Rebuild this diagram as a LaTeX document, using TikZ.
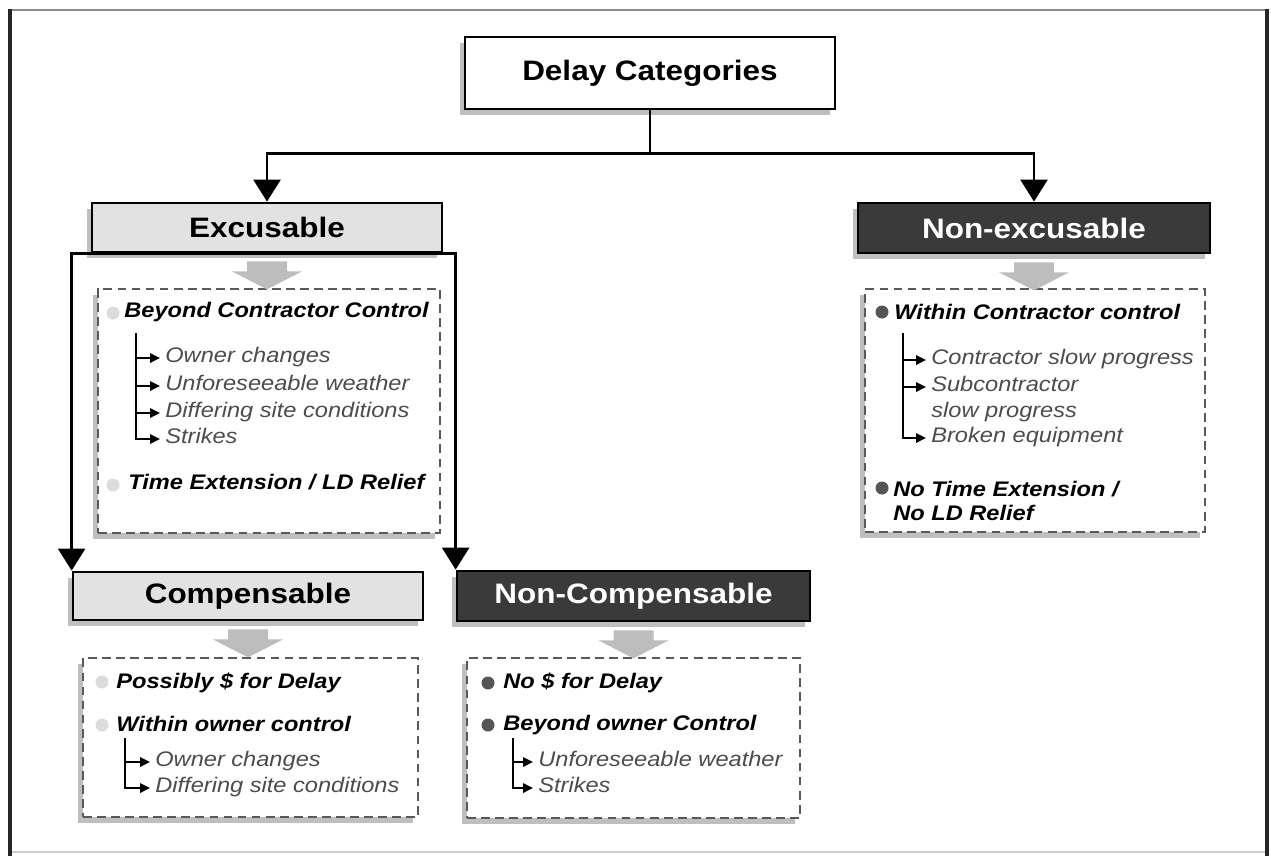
\documentclass[tikz,border=0pt]{standalone}
\usepackage{fontspec}
\setmainfont{Liberation Sans}[FakeStretch=1.12]
\usetikzlibrary{arrows.meta,calc,shadows}
\definecolor{boxlight}{HTML}{E2E2E2}
\definecolor{boxdark}{HTML}{3A3A3A}
\definecolor{agray}{HTML}{BDBDBD}
\definecolor{blight}{HTML}{DCDCDC}
\definecolor{bdark}{HTML}{555555}
\tikzset{
  shad/.style={drop shadow={shadow xshift=-0.1cm, shadow yshift=-0.12cm, fill=black, opacity=0.25}},
  titlebox/.style={draw=black, line width=1.6pt, inner sep=0pt, font=\fontsize{16}{19}\selectfont\bfseries, shad},
  lightbox/.style={titlebox, fill=boxlight},
  darkbox/.style={titlebox, fill=boxdark, text=white},
  dashbox/.style={draw=black!65, dash pattern=on 5pt off 3pt, line width=1.2pt, fill=white, inner sep=0pt, shad},
  hdr/.style={anchor=west, inner sep=0pt, font=\fontsize{12}{14}\selectfont\bfseries\itshape, text height=0.72em, text depth=0.2em},
  itm/.style={anchor=west, inner ysep=0pt, inner xsep=0.1cm, text=black!70, font=\fontsize{12}{14}\selectfont\itshape, text height=0.72em, text depth=0.2em},
  bull/.style={circle, inner sep=0pt, minimum size=0.26cm},
  lbull/.style={bull, fill=blight},
  dbull/.style={bull, fill=bdark},
  conn/.style={line width=1.5pt, -{Triangle[length=0.44cm,width=0.54cm]}},
  sarr/.style={line width=1pt, -{Triangle[length=0.2cm,width=0.19cm]}},
}
\newcommand{\grayarrow}[1]{\fill[agray] ($(#1)+(-20,8)$) -- ++(40,0) -- ++(0,10) -- ++(15,0) -- ++(-35,18) -- ++(-35,-18) -- ++(15,0) -- cycle;}
\begin{document}
\begin{tikzpicture}[x=0.02cm,y=-0.02cm]
\useasboundingbox (0,0) rectangle (1271,856);
% frame
\draw[black!45, line width=1pt] (10,10) -- (1267,10);
\draw[black!20, line width=0.8pt] (10,852) -- (1267,852);
\draw[black!85, line width=1.8pt] (10,9) -- (10,856);
\draw[black!85, line width=1.8pt] (1267,9) -- (1267,856);

% title boxes
\node[titlebox, fill=white, minimum width=7.4cm, minimum height=1.44cm] (dc) at (650,73) {Delay Categories};
\node[lightbox, minimum width=7.0cm, minimum height=0.98cm] (exc) at (267,227.5) {Excusable};
\node[darkbox, minimum width=7.04cm, minimum height=1.0cm] (nexc) at (1034,228) {Non-excusable};
\node[lightbox, minimum width=7.0cm, minimum height=0.96cm] (comp) at (248,596) {Compensable};
\node[darkbox, minimum width=7.06cm, minimum height=1.0cm] (ncomp) at (633.5,596) {Non-Compensable};

% connectors
\draw[conn] (dc.south) -- ++(0,43) -| (exc.north);
\draw[conn] (dc.south) -- ++(0,43) -| (nexc.north);
\draw[conn] (exc.south) -| (comp.north west);
\draw[conn] (exc.south) -| (ncomp.north west);

% dashed content boxes
\node[dashbox, minimum width=6.84cm, minimum height=4.88cm] (excd) at (269,411) {};
\node[dashbox, minimum width=6.8cm, minimum height=4.86cm] (nexcd) at (1035,410.5) {};
\node[dashbox, minimum width=6.7cm, minimum height=3.18cm] (compd) at (250.5,737.5) {};
\node[dashbox, minimum width=6.66cm, minimum height=3.2cm] (ncompd) at (633.5,738) {};

% gray block arrows
\grayarrow{exc.south}
\grayarrow{nexc.south}
\grayarrow{comp.south}
\grayarrow{ncomp.south}

% Excusable content
\node[lbull] (eb1) at (113,313) {};
\node[hdr] (eh1) at (124,313) {Beyond Contractor Control};
\coordinate (ev) at (136,333);
\node[itm] (ei1) at (160,358) {Owner changes};
\node[itm] (ei2) at (160,386) {Unforeseeable weather};
\node[itm] (ei3) at (160,413) {Differing site conditions};
\node[itm] (ei4) at (160,439) {Strikes};
\foreach \n in {ei1,ei2,ei3,ei4} \draw[sarr] (ev) |- (\n.west);
\node[lbull] (eb2) at (113,485) {};
\node[hdr] (eh2) at (128,485) {Time Extension / LD Relief};

% Non-excusable content
\node[dbull] (nb1) at (882,312) {};
\node[hdr] (nh1) at (894,315) {Within Contractor control};
\coordinate (nv) at (903,333);
\node[itm] (ni1) at (926,360) {Contractor slow progress};
\node[itm] (ni2) at (926,387) {Subcontractor};
\node[itm] (ni2b) at (926,413) {slow progress};
\node[itm] (ni3) at (926,438) {Broken equipment};
\foreach \n in {ni1,ni2,ni3} \draw[sarr] (nv) |- (\n.west);
\node[dbull] (nb2) at (882,488) {};
\node[hdr] (nh2) at (893,492) {No Time Extension /};
\node[hdr] (nh3) at (893,516) {No LD Relief};

% Compensable content
\node[lbull] (cb1) at (102,682) {};
\node[hdr] (ch1) at (116,684) {Possibly \$ for Delay};
\node[lbull] (cb2) at (102,725) {};
\node[hdr] (ch2) at (116,727) {Within owner control};
\coordinate (cv) at (125,738);
\node[itm] (ci1) at (150,762) {Owner changes};
\node[itm] (ci2) at (150,788) {Differing site conditions};
\foreach \n in {ci1,ci2} \draw[sarr] (cv) |- (\n.west);

% Non-compensable content
\node[dbull] (kb1) at (488,683) {};
\node[hdr] (kh1) at (503,684) {No \$ for Delay};
\node[dbull] (kb2) at (488,725) {};
\node[hdr] (kh2) at (503,726) {Beyond owner Control};
\coordinate (kv) at (513,738);
\node[itm] (ki1) at (533,762) {Unforeseeable weather};
\node[itm] (ki2) at (533,788) {Strikes};
\foreach \n in {ki1,ki2} \draw[sarr] (kv) |- (\n.west);
\end{tikzpicture}
\end{document}
